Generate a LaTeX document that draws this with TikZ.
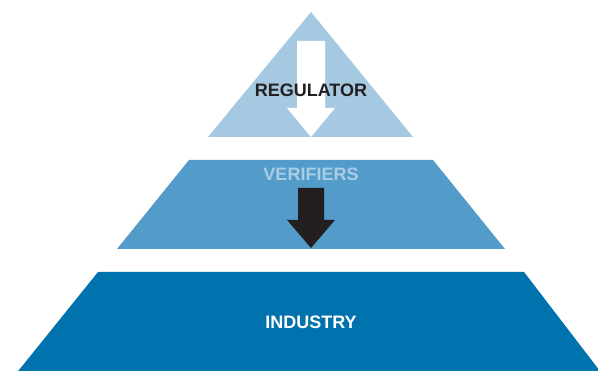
\documentclass[tikz,border=0pt]{standalone}
\usepackage{fontspec}
\setmainfont{Liberation Sans}
\definecolor{tierTop}{RGB}{166,201,226}
\definecolor{tierMid}{RGB}{83,155,201}
\definecolor{tierLow}{RGB}{0,114,174}
\definecolor{midText}{RGB}{170,205,230}
\definecolor{inkDark}{RGB}{35,31,32}
\begin{document}
\begin{tikzpicture}[x=1pt,y=-1pt,
  label/.style={font=\fontsize{18}{18}\selectfont\bfseries, inner sep=0pt, anchor=center},
  tier/.style={draw=none},
  blockarrow/.style={draw=none}]
\useasboundingbox (0,0) rectangle (598,371);
\clip (0,0) rectangle (598,371);

% top tier: regulator
\coordinate (apex) at (311,12);
\coordinate (topL) at (208,137);
\coordinate (topR) at (413,137);
\fill[tier, tierTop] (apex) -- (topR) -- (topL) -- cycle;

% middle tier: verifiers
\coordinate (midTL) at (189,160);
\coordinate (midTR) at (433,160);
\coordinate (midBR) at (505,249);
\coordinate (midBL) at (117,249);
\fill[tier, tierMid] (midTL) -- (midTR) -- (midBR) -- (midBL) -- cycle;

% bottom tier: industry
\coordinate (lowTL) at (98,272);
\coordinate (lowTR) at (524,272);
\coordinate (lowBR) at (603,375);
\coordinate (lowBL) at (15,375);
\fill[tier, tierLow] (lowTL) -- (lowTR) -- (lowBR) -- (lowBL) -- cycle;

% white arrow from regulator down to verifiers
\fill[blockarrow, white] (297,41) -- (325,41) -- (325,108) -- (335,108)
  -- (311,137) -- (287,108) -- (297,108) -- cycle;

% dark arrow from verifiers down to industry
\fill[blockarrow, inkDark] (298,188) -- (324,188) -- (324,220) -- (335,220)
  -- (311,248) -- (287,220) -- (298,220) -- cycle;

\node[label, text=inkDark] (regulator) at (311,90) {REGULATOR};
\node[label, text=midText] (verifiers) at (311,174) {VERIFIERS};
\node[label, text=white] (industry) at (311,322) {INDUSTRY};
\end{tikzpicture}
\end{document}
